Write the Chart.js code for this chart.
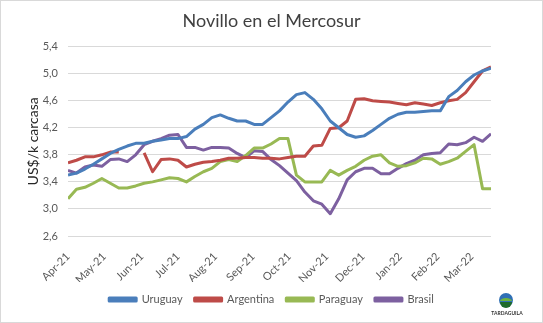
<!DOCTYPE html>
<html>
<head>
<meta charset="utf-8">
<script src="https://cdn.jsdelivr.net/npm/chart.js@4"></script>
<style>
  html, body { margin: 0; padding: 0; background: #fff; }
  #frame { width: 541px; height: 321px; border: 1px solid #d9d9d9; position: relative; }
  #myChart { display: block; }
</style>
</head>
<body>
<div id="frame"><canvas id="myChart" width="541" height="321"></canvas></div>
<script>
// Weekly points, first week of Apr-21 to mid Mar-22.
const weeks = Array.from({ length: 51 }, (_, i) => i);

// Month tick labels and the day (from the first week) each month starts.
const monthLabels = ['Apr-21', 'May-21', 'Jun-21', 'Jul-21', 'Aug-21', 'Sep-21',
  'Oct-21', 'Nov-21', 'Dec-21', 'Jan-22', 'Feb-22', 'Mar-22'];
const monthStartDay = [0, 30, 61, 91, 122, 153, 183, 214, 244, 275, 306, 334];

// US$/k carcasa
const uruguay = [3.50, 3.53, 3.59, 3.66, 3.74, 3.82, 3.88, 3.93, 3.97, 3.97, 4.00, 4.02, 4.04,
  4.04, 4.07, 4.18, 4.25, 4.35, 4.39, 4.34, 4.30, 4.30, 4.25, 4.25, 4.35, 4.45, 4.58, 4.69, 4.72,
  4.62, 4.48, 4.30, 4.20, 4.10, 4.06, 4.08, 4.16, 4.25, 4.34, 4.40, 4.43, 4.43, 4.44, 4.45, 4.45,
  4.66, 4.75, 4.88, 4.98, 5.04, 5.08];
const argentina = [3.68, 3.72, 3.77, 3.77, 3.80, 3.84, 3.84, null, null, 3.83, 3.55, 3.73, 3.74,
  3.72, 3.62, 3.66, 3.69, 3.70, 3.72, 3.75, 3.75, 3.76, 3.76, 3.75, 3.75, 3.74, 3.76, 3.78, 3.78,
  3.93, 3.94, 4.19, 4.20, 4.30, 4.62, 4.63, 4.60, 4.59, 4.58, 4.56, 4.54, 4.57, 4.55, 4.53, 4.57,
  4.60, 4.62, 4.72, 4.88, 5.04, 5.10];
const paraguay = [3.15, 3.29, 3.32, 3.38, 3.45, 3.38, 3.31, 3.31, 3.34, 3.38, 3.40, 3.43, 3.46,
  3.45, 3.40, 3.48, 3.55, 3.60, 3.70, 3.73, 3.70, 3.79, 3.90, 3.90, 3.96, 4.04, 4.04, 3.50, 3.40,
  3.40, 3.40, 3.57, 3.50, 3.57, 3.63, 3.72, 3.78, 3.80, 3.68, 3.63, 3.64, 3.68, 3.75, 3.74, 3.66,
  3.70, 3.75, 3.85, 3.95, 3.30, 3.30];
const brasil = [3.57, 3.53, 3.62, 3.65, 3.63, 3.73, 3.74, 3.70, 3.80, 3.95, 4.00, 4.04, 4.09,
  4.10, 3.91, 3.91, 3.87, 3.91, 3.91, 3.90, 3.82, 3.76, 3.86, 3.85, 3.73, 3.64, 3.53, 3.42, 3.25,
  3.12, 3.07, 2.93, 3.15, 3.43, 3.55, 3.60, 3.60, 3.52, 3.52, 3.60, 3.67, 3.72, 3.80, 3.82, 3.83,
  3.96, 3.95, 3.98, 4.06, 4.00, 4.11];

const FONT = 'Lato, "Open Sans", sans-serif';

function series(label, values, color) {
  return {
    label: label,
    data: values,
    borderColor: color,
    backgroundColor: color,
    borderWidth: 3,
    borderJoinStyle: 'round',
    pointRadius: 0,
    tension: 0,
  };
}

// Small Tardaguila logo in the bottom right corner.
const logoPlugin = {
  id: 'logo',
  afterDraw(chart) {
    const ctx = chart.ctx;
    const cx = 505, cy = 299, r = 7;
    ctx.save();
    ctx.beginPath();
    ctx.arc(cx, cy, r, 0, Math.PI * 2);
    ctx.fillStyle = '#2f6fb5';
    ctx.fill();
    ctx.beginPath();
    ctx.arc(cx, cy + 2, r - 1, 0, Math.PI);
    ctx.fillStyle = '#1f6b2a';
    ctx.fill();
    ctx.beginPath();
    ctx.ellipse(cx, cy + 1, r - 1, 3, 0, Math.PI, 0);
    ctx.fillStyle = '#6fb43f';
    ctx.fill();
    ctx.font = 'bold 5px ' + FONT;
    ctx.fillStyle = '#333';
    ctx.textAlign = 'center';
    ctx.fillText('TARDAGUILA', cx + 1, 312);
    ctx.restore();
  },
};

const config = {
  type: 'line',
  data: {
    labels: weeks,
    datasets: [
      series('Uruguay', uruguay, '#4a7ebb'),
      series('Argentina', argentina, '#be4b48'),
      series('Paraguay', paraguay, '#98b954'),
      series('Brasil', brasil, '#7d60a0'),
    ],
  },
  options: {
    animation: false,
    responsive: false,
    layout: { padding: { left: 0, right: 0, top: 0, bottom: 7 } },
    plugins: {
      title: {
        display: true,
        text: 'Novillo en el Mercosur',
        color: '#404040',
        font: { family: FONT, size: 18, weight: 'normal' },
        padding: { top: 9, bottom: 15 },
      },
      legend: {
        position: 'bottom',
        labels: {
          boxWidth: 27,
          boxHeight: 3,
          padding: 12,
          color: '#595959',
          font: { family: FONT, size: 11 },
        },
      },
      tooltip: { enabled: false },
    },
    scales: {
      x: {
        type: 'linear',
        min: 0,
        max: 50,
        grid: { display: false },
        border: { display: false },
        afterBuildTicks: (scale) => {
          scale.ticks = monthStartDay.map((d) => ({ value: d / 7 }));
        },
        ticks: {
          autoSkip: false,
          maxRotation: 45,
          minRotation: 45,
          padding: 6,
          color: '#595959',
          font: { family: FONT, size: 11 },
          callback: (v, i) => monthLabels[i],
        },
        afterFit: (scale) => { scale.height = 46; },
      },
      y: {
        min: 2.6,
        max: 5.4,
        grid: { color: '#d9d9d9', drawTicks: false },
        border: { display: false },
        ticks: {
          stepSize: 0.4,
          padding: 10,
          color: '#595959',
          font: { family: FONT, size: 11 },
          callback: (v) => v.toFixed(1).replace('.', ','),
        },
        title: {
          display: true,
          text: 'US$/k carcasa',
          color: '#262626',
          font: { family: FONT, size: 14 },
          padding: { top: 24, bottom: 0 },
        },
        afterFit: (scale) => { scale.width = 67; },
      },
      yRight: {
        position: 'right',
        min: 0,
        max: 1,
        grid: { display: false },
        border: { display: false },
        ticks: { display: false },
        afterFit: (scale) => { scale.width = 51; },
      },
    },
  },
  plugins: [logoPlugin],
};

const chart = new Chart(document.getElementById('myChart'), config);
</script>
</body>
</html>
